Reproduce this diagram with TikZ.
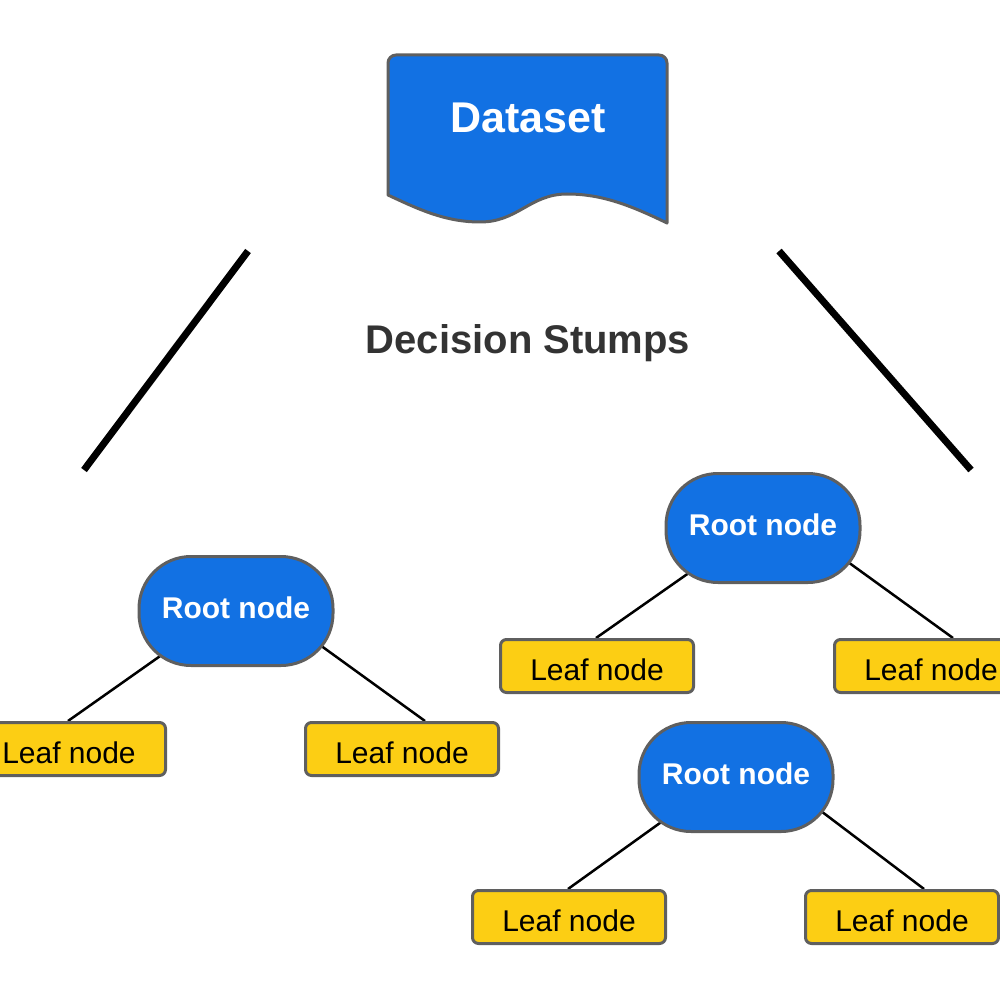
\documentclass[tikz,border=0pt]{standalone}
\usepackage{fontspec}
\setmainfont{Liberation Sans}
\usetikzlibrary{backgrounds}
\definecolor{nodeblue}{HTML}{1271E3}
\definecolor{leafyellow}{HTML}{FCCE14}
\definecolor{bordergray}{HTML}{5F5F5F}
\definecolor{titlegray}{HTML}{333333}
\begin{document}
\begin{tikzpicture}[x=1pt,y=-1pt,
  rootnode/.style={draw=bordergray, line width=3pt, fill=nodeblue, rounded corners=52pt,
    minimum width=194pt, minimum height=109pt, inner sep=0pt, text=white,
    text height=22pt, text depth=8pt, font=\bfseries\fontsize{30}{36}\selectfont},
  leafnode/.style={draw=bordergray, line width=3pt, fill=leafyellow, rounded corners=6pt,
    minimum width=193pt, minimum height=53pt, inner sep=0pt, text=black,
    text height=29pt, text depth=0pt, font=\fontsize{30}{36}\selectfont},
  edgeline/.style={line width=2.5pt, black},
  bigline/.style={line width=7pt, black},
  docshape/.style={draw=bordergray, line width=3pt, fill=nodeblue, line join=round}]
\useasboundingbox (0,0) rectangle (1000,1000);

% Dataset document shape
\draw[docshape] (388,195) [rounded corners=8pt] -- (388,55) -- (667,55) [sharp corners] -- (667,223)
  .. controls (628,204) and (600,194) .. (567,194)
  .. controls (530,194) and (518,222) .. (480,222)
  .. controls (445,222) and (418,209) .. (388,195) -- cycle;
\node[text=white, font=\bfseries\fontsize{43}{50}\selectfont] (dataset) at (528,118) {Dataset};

% title
\node[text=titlegray, font=\bfseries\fontsize{40}{46}\selectfont] (title) at (528,343) {Decision Stumps};

% big separator lines
\coordinate (la) at (248,251);
\coordinate (lb) at (84,470);
\coordinate (ra) at (779,251);
\coordinate (rb) at (971,470);
\draw[bigline] (la) -- (lb);
\draw[bigline] (ra) -- (rb);

% trees
\node[rootnode] (rootA) at (236,611) {Root node};
\node[leafnode] (leafA1) at (69,749) {Leaf node};
\node[leafnode] (leafA2) at (402,749) {Leaf node};

\node[rootnode] (rootB) at (763,528) {Root node};
\node[leafnode] (leafB1) at (597,666) {Leaf node};
\node[leafnode] (leafB2) at (931,666) {Leaf node};

\node[rootnode] (rootC) at (736,777) {Root node};
\node[leafnode] (leafC1) at (569,917) {Leaf node};
\node[leafnode] (leafC2) at (902,917) {Leaf node};

\begin{scope}[on background layer]
\draw[edgeline] ([xshift=-12pt]rootA.center) -- ([xshift=-1pt]leafA1.north);
\draw[edgeline] ([xshift=37pt]rootA.center) -- ([xshift=23pt]leafA2.north);
\draw[edgeline] ([xshift=-10pt]rootB.center) -- ([xshift=-1pt]leafB1.north);
\draw[edgeline] ([xshift=38pt]rootB.center) -- ([xshift=22pt]leafB2.north);
\draw[edgeline] ([xshift=-12pt]rootC.center) -- ([xshift=-1pt]leafC1.north);
\draw[edgeline] ([xshift=40pt]rootC.center) -- ([xshift=22pt]leafC2.north);
\end{scope}
\end{tikzpicture}
\end{document}
